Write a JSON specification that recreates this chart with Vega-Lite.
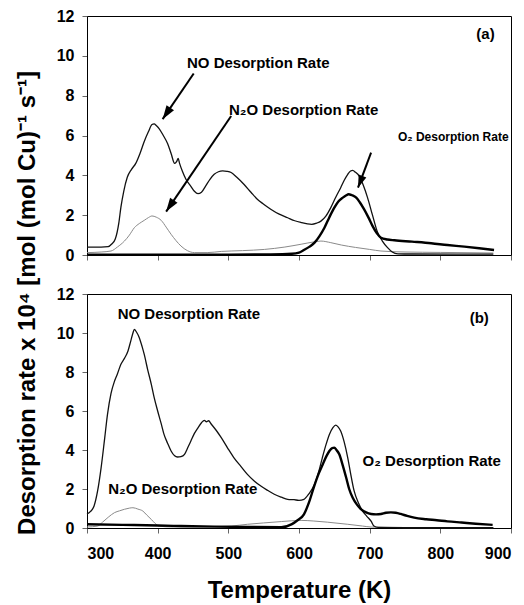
{
  "$schema": "https://vega.github.io/schema/vega-lite/v6.json",
  "padding": {"left": 14, "top": 7, "right": 0, "bottom": 0},
  "background": "white",
  "spacing": 39,
  "bounds": "flush",
  "config": {
    "font": "Liberation Sans",
    "view": {"stroke": "black", "strokeWidth": 1},
    "axis": {
      "grid": false,
      "domainColor": "black",
      "tickColor": "#666",
      "tickSize": 5,
      "labelOverlap": false,
      "labelFont": "Liberation Sans",
      "labelFontWeight": "bold",
      "labelFontSize": 16,
      "labelColor": "black",
      "titleFont": "Liberation Sans",
      "titleFontWeight": "bold",
      "titleFontSize": 24,
      "titleColor": "black"
    }
  },
  "datasets": {
    "a": [
      {"T":300,"v":0.40,"s":"NO"},{"T":320,"v":0.40,"s":"NO"},{"T":330,"v":0.42,"s":"NO"},{"T":335,"v":0.55,"s":"NO"},{"T":340,"v":0.8,"s":"NO"},{"T":345,"v":1.6,"s":"NO"},{"T":348,"v":2.4,"s":"NO"},{"T":352,"v":3.2,"s":"NO"},{"T":357,"v":3.9,"s":"NO"},{"T":363,"v":4.3,"s":"NO"},{"T":369,"v":4.6,"s":"NO"},{"T":375,"v":5.1,"s":"NO"},{"T":381,"v":5.7,"s":"NO"},{"T":387,"v":6.2,"s":"NO"},{"T":392,"v":6.55,"s":"NO"},{"T":395,"v":6.58,"s":"NO"},{"T":398,"v":6.5,"s":"NO"},{"T":402,"v":6.35,"s":"NO"},{"T":408,"v":6.0,"s":"NO"},{"T":414,"v":5.6,"s":"NO"},{"T":419,"v":5.1,"s":"NO"},{"T":424,"v":4.6,"s":"NO"},{"T":427,"v":4.7,"s":"NO"},{"T":429,"v":4.85,"s":"NO"},{"T":431,"v":4.6,"s":"NO"},{"T":435,"v":4.2,"s":"NO"},{"T":440,"v":3.8,"s":"NO"},{"T":447,"v":3.45,"s":"NO"},{"T":452,"v":3.2,"s":"NO"},{"T":457,"v":3.08,"s":"NO"},{"T":462,"v":3.15,"s":"NO"},{"T":468,"v":3.47,"s":"NO"},{"T":474,"v":3.8,"s":"NO"},{"T":480,"v":4.05,"s":"NO"},{"T":486,"v":4.18,"s":"NO"},{"T":492,"v":4.22,"s":"NO"},{"T":498,"v":4.2,"s":"NO"},{"T":504,"v":4.14,"s":"NO"},{"T":512,"v":3.9,"s":"NO"},{"T":522,"v":3.55,"s":"NO"},{"T":532,"v":3.15,"s":"NO"},{"T":541,"v":2.8,"s":"NO"},{"T":550,"v":2.55,"s":"NO"},{"T":560,"v":2.3,"s":"NO"},{"T":572,"v":2.05,"s":"NO"},{"T":584,"v":1.87,"s":"NO"},{"T":594,"v":1.72,"s":"NO"},{"T":603,"v":1.63,"s":"NO"},{"T":612,"v":1.56,"s":"NO"},{"T":618,"v":1.54,"s":"NO"},{"T":625,"v":1.6,"s":"NO"},{"T":631,"v":1.7,"s":"NO"},{"T":638,"v":1.95,"s":"NO"},{"T":645,"v":2.38,"s":"NO"},{"T":652,"v":2.9,"s":"NO"},{"T":659,"v":3.38,"s":"NO"},{"T":664,"v":3.75,"s":"NO"},{"T":669,"v":4.05,"s":"NO"},{"T":673,"v":4.22,"s":"NO"},{"T":676,"v":4.25,"s":"NO"},{"T":680,"v":4.15,"s":"NO"},{"T":685,"v":3.97,"s":"NO"},{"T":691,"v":3.5,"s":"NO"},{"T":697,"v":2.88,"s":"NO"},{"T":704,"v":2.0,"s":"NO"},{"T":711,"v":1.15,"s":"NO"},{"T":718,"v":0.7,"s":"NO"},{"T":725,"v":0.38,"s":"NO"},{"T":732,"v":0.15,"s":"NO"},{"T":740,"v":0.06,"s":"NO"},{"T":760,"v":0.05,"s":"NO"},{"T":875,"v":0.04,"s":"NO"},
      {"T":300,"v":0.12,"s":"N2O"},{"T":320,"v":0.15,"s":"N2O"},{"T":334,"v":0.2,"s":"N2O"},{"T":343,"v":0.4,"s":"N2O"},{"T":353,"v":0.7,"s":"N2O"},{"T":360,"v":1.0,"s":"N2O"},{"T":367,"v":1.37,"s":"N2O"},{"T":374,"v":1.58,"s":"N2O"},{"T":381,"v":1.74,"s":"N2O"},{"T":387,"v":1.88,"s":"N2O"},{"T":392,"v":1.96,"s":"N2O"},{"T":398,"v":1.9,"s":"N2O"},{"T":405,"v":1.74,"s":"N2O"},{"T":412,"v":1.4,"s":"N2O"},{"T":419,"v":1.04,"s":"N2O"},{"T":426,"v":0.72,"s":"N2O"},{"T":433,"v":0.45,"s":"N2O"},{"T":442,"v":0.22,"s":"N2O"},{"T":452,"v":0.12,"s":"N2O"},{"T":470,"v":0.12,"s":"N2O"},{"T":490,"v":0.18,"s":"N2O"},{"T":520,"v":0.22,"s":"N2O"},{"T":551,"v":0.28,"s":"N2O"},{"T":580,"v":0.4,"s":"N2O"},{"T":603,"v":0.54,"s":"N2O"},{"T":620,"v":0.65,"s":"N2O"},{"T":631,"v":0.7,"s":"N2O"},{"T":645,"v":0.62,"s":"N2O"},{"T":660,"v":0.5,"s":"N2O"},{"T":680,"v":0.38,"s":"N2O"},{"T":700,"v":0.28,"s":"N2O"},{"T":716,"v":0.2,"s":"N2O"},{"T":750,"v":0.15,"s":"N2O"},{"T":800,"v":0.13,"s":"N2O"},{"T":875,"v":0.1,"s":"N2O"},
      {"T":300,"v":0.02,"s":"O2"},{"T":400,"v":0.02,"s":"O2"},{"T":500,"v":0.02,"s":"O2"},{"T":560,"v":0.03,"s":"O2"},{"T":590,"v":0.06,"s":"O2"},{"T":600,"v":0.12,"s":"O2"},{"T":607,"v":0.25,"s":"O2"},{"T":615,"v":0.42,"s":"O2"},{"T":622,"v":0.62,"s":"O2"},{"T":629,"v":0.95,"s":"O2"},{"T":636,"v":1.37,"s":"O2"},{"T":643,"v":1.9,"s":"O2"},{"T":650,"v":2.38,"s":"O2"},{"T":656,"v":2.7,"s":"O2"},{"T":662,"v":2.88,"s":"O2"},{"T":667,"v":3.0,"s":"O2"},{"T":670,"v":3.05,"s":"O2"},{"T":675,"v":3.0,"s":"O2"},{"T":681,"v":2.88,"s":"O2"},{"T":686,"v":2.65,"s":"O2"},{"T":692,"v":2.3,"s":"O2"},{"T":698,"v":1.9,"s":"O2"},{"T":704,"v":1.46,"s":"O2"},{"T":710,"v":1.1,"s":"O2"},{"T":716,"v":0.87,"s":"O2"},{"T":725,"v":0.78,"s":"O2"},{"T":735,"v":0.74,"s":"O2"},{"T":760,"v":0.67,"s":"O2"},{"T":787,"v":0.59,"s":"O2"},{"T":810,"v":0.5,"s":"O2"},{"T":834,"v":0.42,"s":"O2"},{"T":855,"v":0.34,"s":"O2"},{"T":876,"v":0.25,"s":"O2"}
    ],
    "b": [
      {"T":300,"v":0.72,"s":"NO"},{"T":305,"v":0.85,"s":"NO"},{"T":310,"v":1.13,"s":"NO"},{"T":315,"v":1.9,"s":"NO"},{"T":320,"v":3.1,"s":"NO"},{"T":325,"v":4.6,"s":"NO"},{"T":329,"v":5.83,"s":"NO"},{"T":334,"v":6.9,"s":"NO"},{"T":339,"v":7.54,"s":"NO"},{"T":343,"v":7.9,"s":"NO"},{"T":348,"v":8.4,"s":"NO"},{"T":353,"v":8.7,"s":"NO"},{"T":358,"v":9.08,"s":"NO"},{"T":362,"v":9.6,"s":"NO"},{"T":365,"v":10.0,"s":"NO"},{"T":367,"v":10.19,"s":"NO"},{"T":370,"v":10.05,"s":"NO"},{"T":374,"v":9.76,"s":"NO"},{"T":378,"v":9.3,"s":"NO"},{"T":381,"v":8.9,"s":"NO"},{"T":386,"v":8.1,"s":"NO"},{"T":391,"v":7.37,"s":"NO"},{"T":395,"v":6.7,"s":"NO"},{"T":400,"v":6.0,"s":"NO"},{"T":405,"v":5.35,"s":"NO"},{"T":409,"v":4.8,"s":"NO"},{"T":414,"v":4.35,"s":"NO"},{"T":419,"v":3.95,"s":"NO"},{"T":424,"v":3.7,"s":"NO"},{"T":428,"v":3.64,"s":"NO"},{"T":433,"v":3.66,"s":"NO"},{"T":438,"v":3.78,"s":"NO"},{"T":443,"v":4.15,"s":"NO"},{"T":447,"v":4.46,"s":"NO"},{"T":452,"v":4.85,"s":"NO"},{"T":457,"v":5.14,"s":"NO"},{"T":462,"v":5.4,"s":"NO"},{"T":466,"v":5.52,"s":"NO"},{"T":469,"v":5.45,"s":"NO"},{"T":472,"v":5.5,"s":"NO"},{"T":476,"v":5.32,"s":"NO"},{"T":483,"v":5.0,"s":"NO"},{"T":490,"v":4.63,"s":"NO"},{"T":499,"v":4.1,"s":"NO"},{"T":508,"v":3.6,"s":"NO"},{"T":518,"v":3.15,"s":"NO"},{"T":527,"v":2.75,"s":"NO"},{"T":537,"v":2.4,"s":"NO"},{"T":546,"v":2.15,"s":"NO"},{"T":556,"v":1.92,"s":"NO"},{"T":565,"v":1.73,"s":"NO"},{"T":575,"v":1.58,"s":"NO"},{"T":584,"v":1.47,"s":"NO"},{"T":593,"v":1.45,"s":"NO"},{"T":600,"v":1.42,"s":"NO"},{"T":607,"v":1.47,"s":"NO"},{"T":614,"v":1.75,"s":"NO"},{"T":622,"v":2.24,"s":"NO"},{"T":628,"v":2.9,"s":"NO"},{"T":633,"v":3.6,"s":"NO"},{"T":638,"v":4.25,"s":"NO"},{"T":643,"v":4.8,"s":"NO"},{"T":648,"v":5.15,"s":"NO"},{"T":652,"v":5.28,"s":"NO"},{"T":655,"v":5.2,"s":"NO"},{"T":659,"v":4.97,"s":"NO"},{"T":664,"v":4.4,"s":"NO"},{"T":669,"v":3.6,"s":"NO"},{"T":673,"v":2.8,"s":"NO"},{"T":678,"v":1.9,"s":"NO"},{"T":684,"v":1.3,"s":"NO"},{"T":690,"v":0.87,"s":"NO"},{"T":696,"v":0.6,"s":"NO"},{"T":702,"v":0.35,"s":"NO"},{"T":706,"v":0.1,"s":"NO"},{"T":712,"v":0.03,"s":"NO"},{"T":750,"v":0.02,"s":"NO"},{"T":875,"v":0.02,"s":"NO"},
      {"T":300,"v":0.05,"s":"N2O"},{"T":315,"v":0.1,"s":"N2O"},{"T":322,"v":0.3,"s":"N2O"},{"T":330,"v":0.55,"s":"N2O"},{"T":339,"v":0.79,"s":"N2O"},{"T":346,"v":0.88,"s":"N2O"},{"T":353,"v":0.96,"s":"N2O"},{"T":360,"v":1.02,"s":"N2O"},{"T":365,"v":1.04,"s":"N2O"},{"T":372,"v":0.97,"s":"N2O"},{"T":379,"v":0.87,"s":"N2O"},{"T":385,"v":0.65,"s":"N2O"},{"T":391,"v":0.44,"s":"N2O"},{"T":396,"v":0.25,"s":"N2O"},{"T":402,"v":0.1,"s":"N2O"},{"T":420,"v":0.05,"s":"N2O"},{"T":450,"v":0.05,"s":"N2O"},{"T":480,"v":0.07,"s":"N2O"},{"T":504,"v":0.1,"s":"N2O"},{"T":527,"v":0.19,"s":"N2O"},{"T":550,"v":0.26,"s":"N2O"},{"T":575,"v":0.33,"s":"N2O"},{"T":603,"v":0.39,"s":"N2O"},{"T":620,"v":0.36,"s":"N2O"},{"T":640,"v":0.3,"s":"N2O"},{"T":669,"v":0.19,"s":"N2O"},{"T":690,"v":0.1,"s":"N2O"},{"T":702,"v":0.05,"s":"N2O"},{"T":750,"v":0.02,"s":"N2O"},{"T":875,"v":0.02,"s":"N2O"},
      {"T":300,"v":0.19,"s":"O2"},{"T":350,"v":0.16,"s":"O2"},{"T":400,"v":0.13,"s":"O2"},{"T":433,"v":0.1,"s":"O2"},{"T":480,"v":0.07,"s":"O2"},{"T":530,"v":0.05,"s":"O2"},{"T":575,"v":0.04,"s":"O2"},{"T":590,"v":0.2,"s":"O2"},{"T":598,"v":0.4,"s":"O2"},{"T":607,"v":0.7,"s":"O2"},{"T":614,"v":1.3,"s":"O2"},{"T":622,"v":2.2,"s":"O2"},{"T":628,"v":2.8,"s":"O2"},{"T":634,"v":3.3,"s":"O2"},{"T":639,"v":3.7,"s":"O2"},{"T":643,"v":3.95,"s":"O2"},{"T":647,"v":4.1,"s":"O2"},{"T":650,"v":4.12,"s":"O2"},{"T":653,"v":4.0,"s":"O2"},{"T":657,"v":3.78,"s":"O2"},{"T":662,"v":3.2,"s":"O2"},{"T":667,"v":2.55,"s":"O2"},{"T":671,"v":2.0,"s":"O2"},{"T":676,"v":1.55,"s":"O2"},{"T":682,"v":1.2,"s":"O2"},{"T":688,"v":0.96,"s":"O2"},{"T":695,"v":0.8,"s":"O2"},{"T":702,"v":0.72,"s":"O2"},{"T":709,"v":0.7,"s":"O2"},{"T":716,"v":0.72,"s":"O2"},{"T":723,"v":0.78,"s":"O2"},{"T":730,"v":0.8,"s":"O2"},{"T":737,"v":0.78,"s":"O2"},{"T":744,"v":0.72,"s":"O2"},{"T":753,"v":0.62,"s":"O2"},{"T":763,"v":0.53,"s":"O2"},{"T":780,"v":0.45,"s":"O2"},{"T":795,"v":0.4,"s":"O2"},{"T":810,"v":0.34,"s":"O2"},{"T":830,"v":0.28,"s":"O2"},{"T":850,"v":0.22,"s":"O2"},{"T":874,"v":0.16,"s":"O2"}
    ],
    "labA": [
      {"T":441.5,"v":9.65,"t":"NO Desorption Rate"},
      {"T":501,"v":7.3,"t":"N₂O Desorption Rate"},
      {"T":851,"v":11.1,"t":"(a)"}
    ],
    "labA2": [
      {"T":740,"v":5.9,"t":"O₂ Desorption Rate"}
    ],
    "labB": [
      {"T":343.4,"v":10.96,"t":"NO Desorption Rate"},
      {"T":330,"v":1.98,"t":"N₂O Desorption Rate"},
      {"T":690,"v":3.44,"t":"O₂ Desorption Rate"},
      {"T":841.5,"v":10.78,"t":"(b)"}
    ],
    "arrA": [
      {"T":451,"v":9.11,"T2":407,"v2":6.82,"id":"NO"},
      {"T":504,"v":6.98,"T2":412,"v2":2.18,"id":"N2O"},
      {"T":702,"v":5.14,"T2":683.5,"v2":3.38,"id":"O2"}
    ]
  },
  "vconcat": [
    {
      "width": 424,
      "height": 239,
      "encoding": {
        "x": {"field": "T", "type": "quantitative", "scale": {"domain": [300, 900], "nice": false},
              "axis": {"values": [300,400,500,600,700,800,900], "labels": false, "title": null}},
        "y": {"field": "v", "type": "quantitative", "scale": {"domain": [0, 12], "nice": false},
              "axis": {"values": [0,2,4,6,8,10,12], "labelPadding": 8,
                       "title": "Desorption rate x 10⁴ [mol (mol Cu)⁻¹ s⁻¹]",
                       "titleAngle": 270, "titleBaseline": "alphabetic", "titleAlign": "center",
                       "titleX": -53, "titleY": 286.5}}
      },
      "layer": [
        {
          "data": {"name": "a"},
          "transform": [{"filter": "datum.s === 'N2O'"}],
          "mark": {"type": "line", "interpolate": "monotone", "color": "#8a8a8a", "strokeWidth": 1}
        },
        {
          "data": {"name": "a"},
          "transform": [{"filter": "datum.s === 'NO'"}],
          "mark": {"type": "line", "interpolate": "monotone", "color": "#111111", "strokeWidth": 1.3}
        },
        {
          "data": {"name": "a"},
          "transform": [{"filter": "datum.s === 'O2'"}],
          "mark": {"type": "line", "interpolate": "monotone", "color": "#000000", "strokeWidth": 2.4}
        },
        {
          "data": {"name": "arrA"},
          "mark": {"type": "rule", "color": "black", "strokeWidth": 2},
          "encoding": {
            "x": {"field": "T", "type": "quantitative"},
            "y": {"field": "v", "type": "quantitative"},
            "x2": {"field": "T2"},
            "y2": {"field": "v2"}
          }
        },
        {
          "data": {"name": "arrA"},
          "transform": [{"filter": "datum.id !== 'O2'"}],
          "mark": {"type": "point", "shape": "M0,0L0.36,1.1L-0.36,1.1Z", "filled": true, "color": "black", "opacity": 1, "size": 620, "angle": 214},
          "encoding": {
            "x": {"field": "T2", "type": "quantitative"},
            "y": {"field": "v2", "type": "quantitative"}
          }
        },
        {
          "data": {"name": "arrA"},
          "transform": [{"filter": "datum.id === 'O2'"}],
          "mark": {"type": "point", "shape": "M0,0L0.36,1.1L-0.36,1.1Z", "filled": true, "color": "black", "opacity": 1, "size": 520, "angle": 201},
          "encoding": {
            "x": {"field": "T2", "type": "quantitative"},
            "y": {"field": "v2", "type": "quantitative"}
          }
        },
        {
          "data": {"name": "labA"},
          "mark": {"type": "text", "align": "left", "baseline": "middle", "font": "Liberation Sans", "fontWeight": "bold", "fontSize": 15, "color": "black"},
          "encoding": {"text": {"field": "t"}}
        },
        {
          "data": {"name": "labA2"},
          "mark": {"type": "text", "align": "left", "baseline": "middle", "font": "Liberation Sans", "fontWeight": "bold", "fontSize": 12, "color": "black"},
          "encoding": {"text": {"field": "t"}}
        }
      ]
    },
    {
      "width": 424,
      "height": 234,
      "encoding": {
        "x": {"field": "T", "type": "quantitative", "scale": {"domain": [300, 900], "nice": false},
              "axis": {"values": [300,400,500,600,700,800,900], "labelPadding": 12,
                       "title": "Temperature (K)", "titleBaseline": "alphabetic", "titleY": 69}},
        "y": {"field": "v", "type": "quantitative", "scale": {"domain": [0, 12], "nice": false},
              "axis": {"values": [0,2,4,6,8,10,12], "labelPadding": 8, "title": null}}
      },
      "layer": [
        {
          "data": {"name": "b"},
          "transform": [{"filter": "datum.s === 'N2O'"}],
          "mark": {"type": "line", "interpolate": "monotone", "color": "#8a8a8a", "strokeWidth": 1}
        },
        {
          "data": {"name": "b"},
          "transform": [{"filter": "datum.s === 'NO'"}],
          "mark": {"type": "line", "interpolate": "monotone", "color": "#111111", "strokeWidth": 1.3}
        },
        {
          "data": {"name": "b"},
          "transform": [{"filter": "datum.s === 'O2'"}],
          "mark": {"type": "line", "interpolate": "monotone", "color": "#000000", "strokeWidth": 2.4}
        },
        {
          "data": {"name": "labB"},
          "mark": {"type": "text", "align": "left", "baseline": "middle", "font": "Liberation Sans", "fontWeight": "bold", "fontSize": 15, "color": "black"},
          "encoding": {"text": {"field": "t"}}
        }
      ]
    }
  ]
}
